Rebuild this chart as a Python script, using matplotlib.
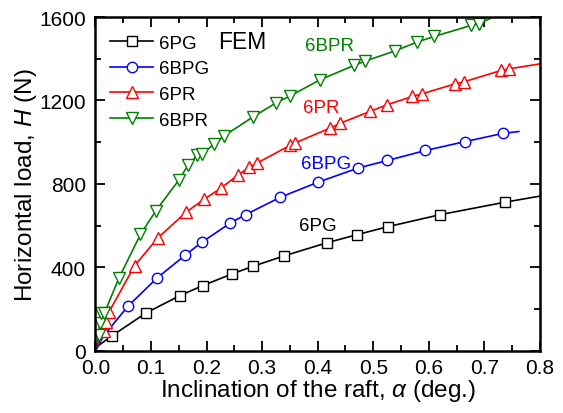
import numpy as np
import matplotlib
matplotlib.use("Agg")
import matplotlib.pyplot as plt
from matplotlib.ticker import MultipleLocator

plt.rcParams['font.family'] = ['Liberation Sans', 'DejaVu Sans']
plt.rcParams['mathtext.fontset'] = 'custom'
plt.rcParams['mathtext.it'] = 'Liberation Sans:italic'
plt.rcParams['mathtext.rm'] = 'Liberation Sans'

# ---- data (x = inclination deg., y = H in N) ----
pg_x = [0.0, 0.005, 0.030, 0.091, 0.152, 0.193, 0.2455, 0.284, 0.340, 0.416, 0.4716, 0.527, 0.620, 0.737, 0.7995]
pg_y = [0, 24, 72, 181, 264, 312, 368, 405, 455, 517, 557, 595, 652, 712, 741]

bpg_x = [0.0, 0.014, 0.058, 0.111, 0.162, 0.1915, 0.2425, 0.2707, 0.333, 0.4007, 0.473, 0.5255, 0.594, 0.666, 0.7335, 0.762]
bpg_y = [0, 69, 212, 349, 459, 520, 612, 653, 736, 808, 876, 912, 960, 1003, 1042, 1051]

pr_x = [0.0, 0.004, 0.015, 0.019, 0.024, 0.0705, 0.112, 0.163, 0.195, 0.226, 0.257, 0.277, 0.291, 0.350, 0.360,
        0.423, 0.440, 0.494, 0.5255, 0.5705, 0.587, 0.648, 0.663, 0.7305, 0.7437, 0.7995]
pr_y = [0, 30, 96, 136, 184, 408, 540, 664, 725, 780, 843, 880, 900, 984, 997,
        1068, 1090, 1147, 1180, 1219, 1231, 1280, 1289, 1344, 1351, 1375]

bpr_x = [0.0, 0.003, 0.0058, 0.0075, 0.0104, 0.016, 0.0423, 0.081, 0.109, 0.150, 0.167, 0.183, 0.192, 0.213, 0.231,
         0.283, 0.3247, 0.350, 0.405, 0.4655, 0.486, 0.5387, 0.579, 0.610, 0.6766, 0.690, 0.714]
bpr_y = [0, 35, 77, 131, 181, 180, 349, 558, 672, 818, 891, 936, 944, 989, 1029,
         1120, 1188, 1221, 1300, 1368, 1389, 1437, 1480, 1507, 1560, 1568, 1597]

series = [
    ("6PG", pg_x, pg_y, "black", "s", 6.5),
    ("6BPG", bpg_x, bpg_y, "blue", "o", 7.5),
    ("6PR", pr_x, pr_y, "red", "^", 8),
    ("6BPR", bpr_x, bpr_y, "green", "v", 8),
]
# first points run from the origin, the last one is only where the line ends
marks = slice(2, -1)

fig = plt.figure(figsize=(5.63, 4.14), dpi=100)
ax = fig.add_axes([0.1696, 0.1505, 0.7894, 0.806])

for name, x, y, c, m, ms in series:
    ax.plot(x, y, color=c, lw=1.2, marker=m, ms=ms, mfc="white", mec=c, mew=1.0,
            markevery=marks, label=name)

ax.set_xlim(0, 0.8)
ax.set_ylim(0, 1600)
ax.xaxis.set_major_locator(MultipleLocator(0.1))
ax.xaxis.set_minor_locator(MultipleLocator(0.05))
ax.yaxis.set_major_locator(MultipleLocator(400))
ax.yaxis.set_minor_locator(MultipleLocator(200))
ax.xaxis.set_major_formatter(plt.FuncFormatter(lambda v, p: f"{v:.1f}"))
ax.tick_params(which="both", direction="in", top=True, right=True, width=1.3, labelsize=15)
ax.tick_params(which="major", length=7)
ax.tick_params(which="minor", length=4)
ax.tick_params(axis="x", which="major", pad=5)
ax.tick_params(axis="y", which="major", pad=7)
for s in ax.spines.values():
    s.set_linewidth(1.8)

ax.set_xlabel(r"Inclination of the raft, $\it{\alpha}$ (deg.)", fontsize=17.5, labelpad=0)
ax.set_ylabel(r"Horizontal load, $\it{H}$ (N)", fontsize=17.5, labelpad=0)

ax.text(0.2635, 1482, "FEM", fontsize=16.5, ha="center", va="center")
ax.text(0.422, 1462, "6BPR", color="green", fontsize=13.5, ha="center", va="center")
ax.text(0.407, 1168, "6PR", color="red", fontsize=13.5, ha="center", va="center")
ax.text(0.415, 896, "6BPG", color="blue", fontsize=13.5, ha="center", va="center")
ax.text(0.40, 598, "6PG", color="black", fontsize=13.5, ha="center", va="center")

ax.legend(loc="upper left", bbox_to_anchor=(0.012, 0.975), frameon=False, fontsize=13.5,
          handlelength=2.3, handletextpad=0.3, labelspacing=0.45, borderaxespad=0.3, borderpad=0.2)

fig.savefig("out.png", dpi=100)
